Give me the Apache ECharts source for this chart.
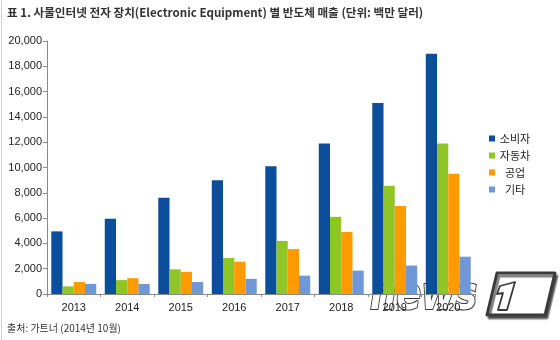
<!DOCTYPE html>
<html>
<head>
<meta charset="utf-8">
<script src="https://cdn.jsdelivr.net/npm/echarts@6/dist/echarts.min.js"></script>
<style>
  html, body { margin: 0; padding: 0; background: #fff; }
  #chart { width: 560px; height: 340px; }
</style>
</head>
<body>
<div id="chart"></div>
<script>
// Semiconductor revenue by IoT electronic-equipment segment (USD millions)
const years = ['2013', '2014', '2015', '2016', '2017', '2018', '2019', '2020'];
const consumer = [4950, 5950, 7600, 9000, 10100, 11900, 15100, 19000];
const automotive = [600, 1100, 1950, 2850, 4200, 6100, 8550, 11900];
const industrial = [950, 1250, 1750, 2550, 3550, 4900, 6950, 9500];
const other = [800, 800, 950, 1200, 1450, 1850, 2250, 2950];
const seriesNames = ['소비자', '자동차', '공업', '기타'];
const seriesColors = ['#0b4f9c', '#8fc626', '#ff9a00', '#7098d6'];
const yTicks = { min: 0, max: 20000, interval: 2000 };

const chart = echarts.init(document.getElementById('chart'));
const fontLatin = '"Liberation Sans", Arial, sans-serif';
const fontKr = '"Noto Sans CJK KR", sans-serif';

const makeBar = (name, data, color) => ({
  name: name,
  type: 'bar',
  data: data,
  itemStyle: { color: color },
  barGap: '0%',
  barCategoryGap: '16%',
  emphasis: { disabled: true }
});

const outline = {
  fill: '#ffffff', stroke: '#3a3a3a', lineWidth: 2.2, lineJoin: 'round',
  shadowColor: 'rgba(0,0,0,0.5)', shadowOffsetX: 2, shadowOffsetY: 3, shadowBlur: 1
};

chart.setOption({
  animation: false,
  grid: { left: 47, right: 85, top: 41, bottom: 46 },
  xAxis: {
    type: 'category',
    data: years,
    axisLine: { lineStyle: { color: '#8a8a8a', width: 1 } },
    axisTick: { show: true, length: 3, lineStyle: { color: '#8a8a8a' } },
    axisLabel: { color: '#222', fontSize: 11, fontFamily: fontLatin, margin: 8 }
  },
  yAxis: {
    type: 'value',
    min: yTicks.min,
    max: yTicks.max,
    interval: yTicks.interval,
    splitLine: { show: false },
    axisLine: { show: true, lineStyle: { color: '#8a8a8a', width: 1 } },
    axisTick: { show: true, length: 4, lineStyle: { color: '#8a8a8a' } },
    axisLabel: {
      color: '#222', fontSize: 11, fontFamily: fontLatin, margin: 5,
      formatter: v => v.toLocaleString('en-US')
    }
  },
  legend: {
    orient: 'vertical',
    left: 484,
    top: 128,
    itemWidth: 6,
    itemHeight: 6,
    itemGap: 6,
    icon: 'rect',
    selectedMode: false,
    formatter: '{t|{name}}',
    textStyle: {
      fontFamily: fontKr,
      fontSize: 11,
      color: '#222',
      rich: { t: { width: 30, align: 'center', fontFamily: fontKr, fontSize: 11, color: '#222' } }
    },
    data: seriesNames
  },
  series: [
    makeBar(seriesNames[0], consumer, seriesColors[0]),
    makeBar(seriesNames[1], automotive, seriesColors[1]),
    makeBar(seriesNames[2], industrial, seriesColors[2]),
    makeBar(seriesNames[3], other, seriesColors[3])
  ],
  graphic: [
    {
      type: 'line', z: 10,
      shape: { x1: 1.5, y1: 0, x2: 1.5, y2: 340 },
      style: { stroke: '#d0d0d0', lineWidth: 1 }
    },
    {
      type: 'text', left: 7, top: 7, z: 10,
      style: {
        text: '표 1. 사물인터넷 전자 장치(Electronic Equipment) 별 반도체 매출 (단위: 백만 달러)',
        font: 'bold 11.6px "Noto Sans CJK KR", sans-serif',
        fill: '#333'
      }
    },
    {
      type: 'text', left: 7, top: 323, z: 10,
      style: {
        text: '출처: 가트너 (2014년 10월)',
        font: '10px "Noto Sans CJK KR", sans-serif',
        fill: '#333'
      }
    },
    // news1 watermark
    {
      type: 'group', z: 20,
      children: [
        {
          type: 'text', x: 370, y: 274, scaleX: 0.8,
          style: Object.assign({
            text: 'news',
            font: 'italic bold 46px "DejaVu Sans", sans-serif'
          }, outline)
        },
        {
          type: 'polygon',
          shape: { points: [[497, 273], [555, 273], [545, 315], [487, 315]] },
          style: Object.assign({}, outline, { lineWidth: 3 })
        },
        {
          type: 'polygon',
          shape: { points: [[500, 286], [515, 282], [507, 310], [498, 310], [503, 293], [497, 294]] },
          style: { fill: '#ffffff', stroke: '#3a3a3a', lineWidth: 1.8, lineJoin: 'round' }
        }
      ]
    }
  ]
});
</script>
</body>
</html>
